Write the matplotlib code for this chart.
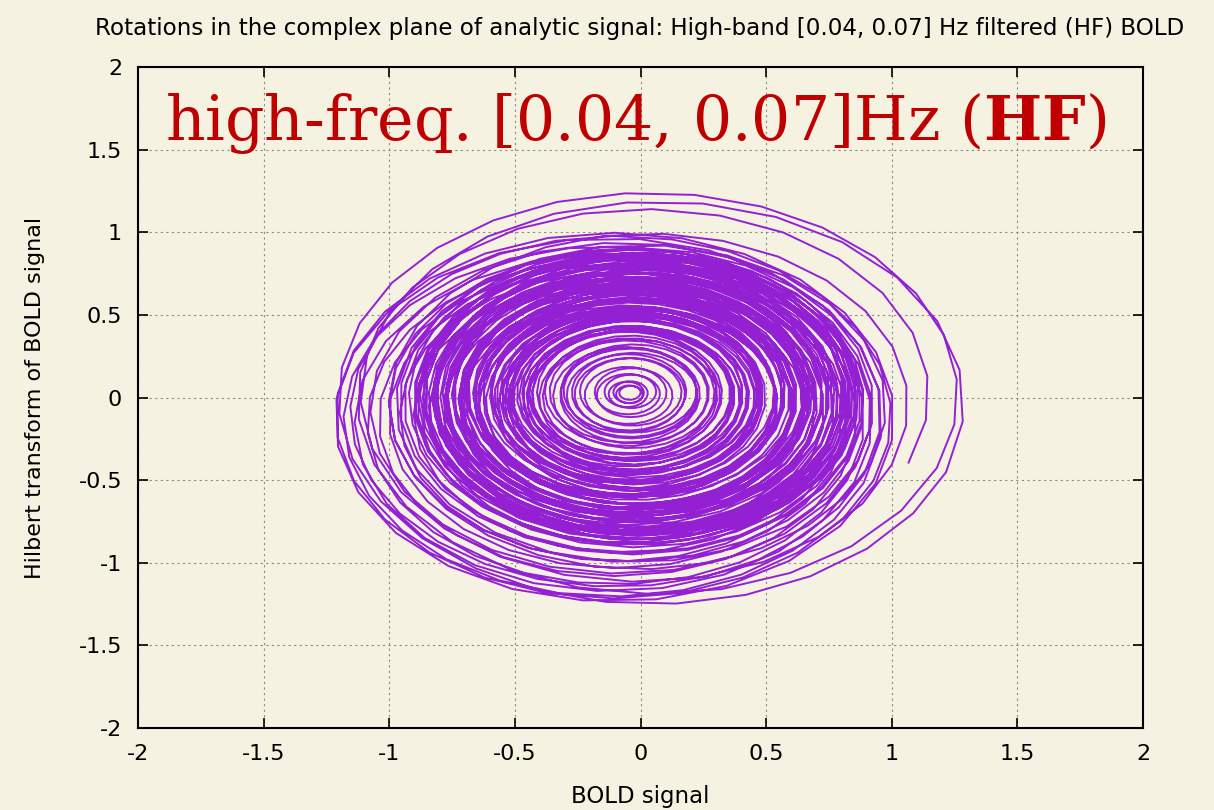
import matplotlib
matplotlib.use('Agg')
import matplotlib.pyplot as plt
import numpy as np
from matplotlib.ticker import FuncFormatter

# amplitude of the analytic signal at the start of each rotation
turn_amp = [1.10, 1.22, 1.26, 1.05, 0.98, 0.95, 0.92, 0.88, 0.84, 0.80,
            0.84, 0.89, 0.86, 0.79, 0.72, 0.66, 0.70, 0.76, 0.81, 0.77,
            0.70, 0.62, 0.55, 0.50, 0.54, 0.61, 0.68, 0.74, 0.71, 0.64,
            0.57, 0.49, 0.42, 0.36, 0.40, 0.47, 0.55, 0.63, 0.70, 0.76,
            0.82, 0.87, 0.84, 0.78, 0.70, 0.61, 0.52, 0.44, 0.37, 0.31,
            0.26, 0.22, 0.27, 0.33, 0.40, 0.48, 0.56, 0.64, 0.71, 0.67,
            0.60, 0.53, 0.46, 0.40, 0.35, 0.29, 0.23, 0.17, 0.12, 0.08,
            0.05, 0.04, 0.06, 0.10, 0.15, 0.20, 0.25, 0.31, 0.37, 0.44,
            0.51, 0.58, 0.65, 0.72, 0.78, 0.83, 0.79, 0.73, 0.66, 0.59,
            0.52, 0.46, 0.50, 0.57, 0.64, 0.70, 0.75, 0.80, 0.85, 0.89,
            0.92, 0.96, 1.00, 1.04, 1.08, 1.12, 1.10, 1.04, 0.98, 0.93,
            0.90, 0.87, 0.82, 0.77, 0.71, 0.65, 0.58, 0.52, 0.47, 0.43,
            0.39, 0.45, 0.52, 0.60, 0.67, 0.73, 0.79, 0.84, 0.88, 0.85]
# centre of each rotation
turn_cx = [0.04, 0.04, 0.04, 0.02, 0.00, -0.02, -0.03, -0.02, 0.00, 0.01,
           -0.01, -0.03, -0.02, 0.00, 0.01, -0.01, -0.03, -0.04, -0.02, 0.00,
           -0.02, -0.04, -0.05, -0.03, -0.01, 0.00, -0.02, -0.04, -0.05, -0.03,
           -0.02, -0.03, -0.05, -0.06, -0.04, -0.02, -0.01, -0.03, -0.05, -0.04,
           -0.02, 0.00, -0.01, -0.03, -0.05, -0.04, -0.03, -0.04, -0.05, -0.04,
           -0.03, -0.04, -0.05, -0.04, -0.03, -0.02, -0.03, -0.05, -0.04, -0.02,
           -0.03, -0.04, -0.05, -0.04, -0.04, -0.05, -0.05, -0.04, -0.04, -0.05,
           -0.04, -0.04, -0.05, -0.04, -0.05, -0.04, -0.03, -0.04, -0.05, -0.04,
           -0.03, -0.02, -0.03, -0.04, -0.03, -0.01, 0.00, -0.02, -0.04, -0.05,
           -0.04, -0.03, -0.02, -0.03, -0.04, -0.05, -0.06, -0.07, -0.08, -0.09,
           -0.10, -0.10, -0.11, -0.12, -0.12, -0.11, -0.10, -0.08, -0.06, -0.04,
           -0.02, -0.02, -0.03, -0.02, -0.01, -0.03, -0.04, -0.05, -0.04, -0.03,
           -0.02, -0.03, -0.04, -0.03, -0.02, -0.01, -0.02, -0.03, -0.02, -0.01]
turn_cy = [0.00, 0.01, 0.00, -0.03, -0.05, -0.04, -0.02, 0.00, 0.02, 0.01,
           -0.01, -0.03, -0.02, 0.00, 0.02, 0.03, 0.01, -0.01, -0.02, 0.00,
           0.02, 0.03, 0.01, -0.01, -0.02, 0.00, 0.02, 0.01, -0.01, -0.03,
           -0.02, 0.00, 0.02, 0.03, 0.02, 0.00, -0.02, -0.03, -0.01, 0.01,
           0.02, 0.00, -0.02, -0.01, 0.01, 0.03, 0.02, 0.01, 0.02, 0.03,
           0.02, 0.03, 0.02, 0.01, 0.00, 0.01, 0.02, 0.00, -0.01, 0.01,
           0.02, 0.03, 0.02, 0.03, 0.02, 0.03, 0.03, 0.02, 0.03, 0.03,
           0.02, 0.03, 0.02, 0.03, 0.02, 0.02, 0.03, 0.02, 0.01, 0.02,
           0.01, 0.00, -0.01, 0.01, 0.02, 0.00, -0.02, -0.01, 0.01, 0.02,
           0.01, 0.00, -0.02, -0.04, -0.06, -0.07, -0.08, -0.09, -0.10, -0.11,
           -0.12, -0.13, -0.14, -0.14, -0.13, -0.12, -0.11, -0.09, -0.07, -0.05,
           -0.03, -0.01, 0.00, 0.01, 0.00, -0.01, 0.01, 0.02, 0.01, 0.00,
           -0.01, 0.00, 0.01, 0.02, 0.00, -0.02, -0.01, 0.00, 0.01, 0.00]
# samples per rotation (cycled)
turn_samples = [26, 28, 25, 27, 24, 26, 29, 25, 27, 26]
start_angle = -21.0  # degrees, first sample (right, just below 0)

xs, ys = [], []
phase = np.deg2rad(start_angle)
for i in range(len(turn_amp) - 1):
    n = turn_samples[i % len(turn_samples)]
    for k in range(n):
        t = k / n
        r = turn_amp[i] + (turn_amp[i + 1] - turn_amp[i]) * t
        cx = turn_cx[i] + (turn_cx[i + 1] - turn_cx[i]) * t
        cy = turn_cy[i] + (turn_cy[i + 1] - turn_cy[i]) * t
        a = phase + 2 * np.pi * t
        xs.append(cx + r * np.cos(a))
        ys.append(cy + r * np.sin(a))
    phase += 2 * np.pi

bg = '#f5f2e1'
fig = plt.figure(figsize=(12.14, 8.1), dpi=100, facecolor=bg)
ax = fig.add_axes([0.1137, 0.1012, 0.8278, 0.8161])
ax.set_facecolor(bg)

ax.plot(xs, ys, color='#9420d4', lw=1.4)

ax.set_xlim(-2, 2)
ax.set_ylim(-2, 2)
ticks = [-2, -1.5, -1, -0.5, 0, 0.5, 1, 1.5, 2]
ax.set_xticks(ticks)
ax.set_yticks(ticks)
fmt = FuncFormatter(lambda v, p: '%g' % v)
ax.xaxis.set_major_formatter(fmt)
ax.yaxis.set_major_formatter(fmt)
ax.grid(color='#8a8a8a', linestyle=(0, (2, 3)), linewidth=0.8)
ax.tick_params(direction='in', length=7, width=1.2, top=True, right=True,
               labelsize=16, pad=11.5)
for lab in ax.get_xticklabels() + ax.get_yticklabels():
    lab.set_fontfamily('DejaVu Sans')
for s in ax.spines.values():
    s.set_linewidth(1.5)

ax.set_xlabel('BOLD signal', fontsize=16.5, family='DejaVu Sans')
ax.set_ylabel('Hilbert transform of BOLD signal', fontsize=16, family='DejaVu Sans')
ax.xaxis.set_label_coords(0.5, -0.086)
ax.yaxis.set_label_coords(-0.0925, 0.5)
fig.text(0.527, 0.9654, 'Rotations in the complex plane of analytic signal: '
         'High-band [0.04, 0.07] Hz filtered (HF) BOLD', ha='center', va='center',
         fontsize=16.6, family='DejaVu Sans')

plt.rcParams['mathtext.fontset'] = 'dejavuserif'
ax.text(-1.893, 1.558, r'high-freq. [0.04, 0.07]Hz ($\mathbf{HF}$)', color='#c00000',
        fontsize=44.4, family='DejaVu Serif', ha='left', va='baseline')

fig.savefig('out.png', dpi=100, facecolor=bg)
